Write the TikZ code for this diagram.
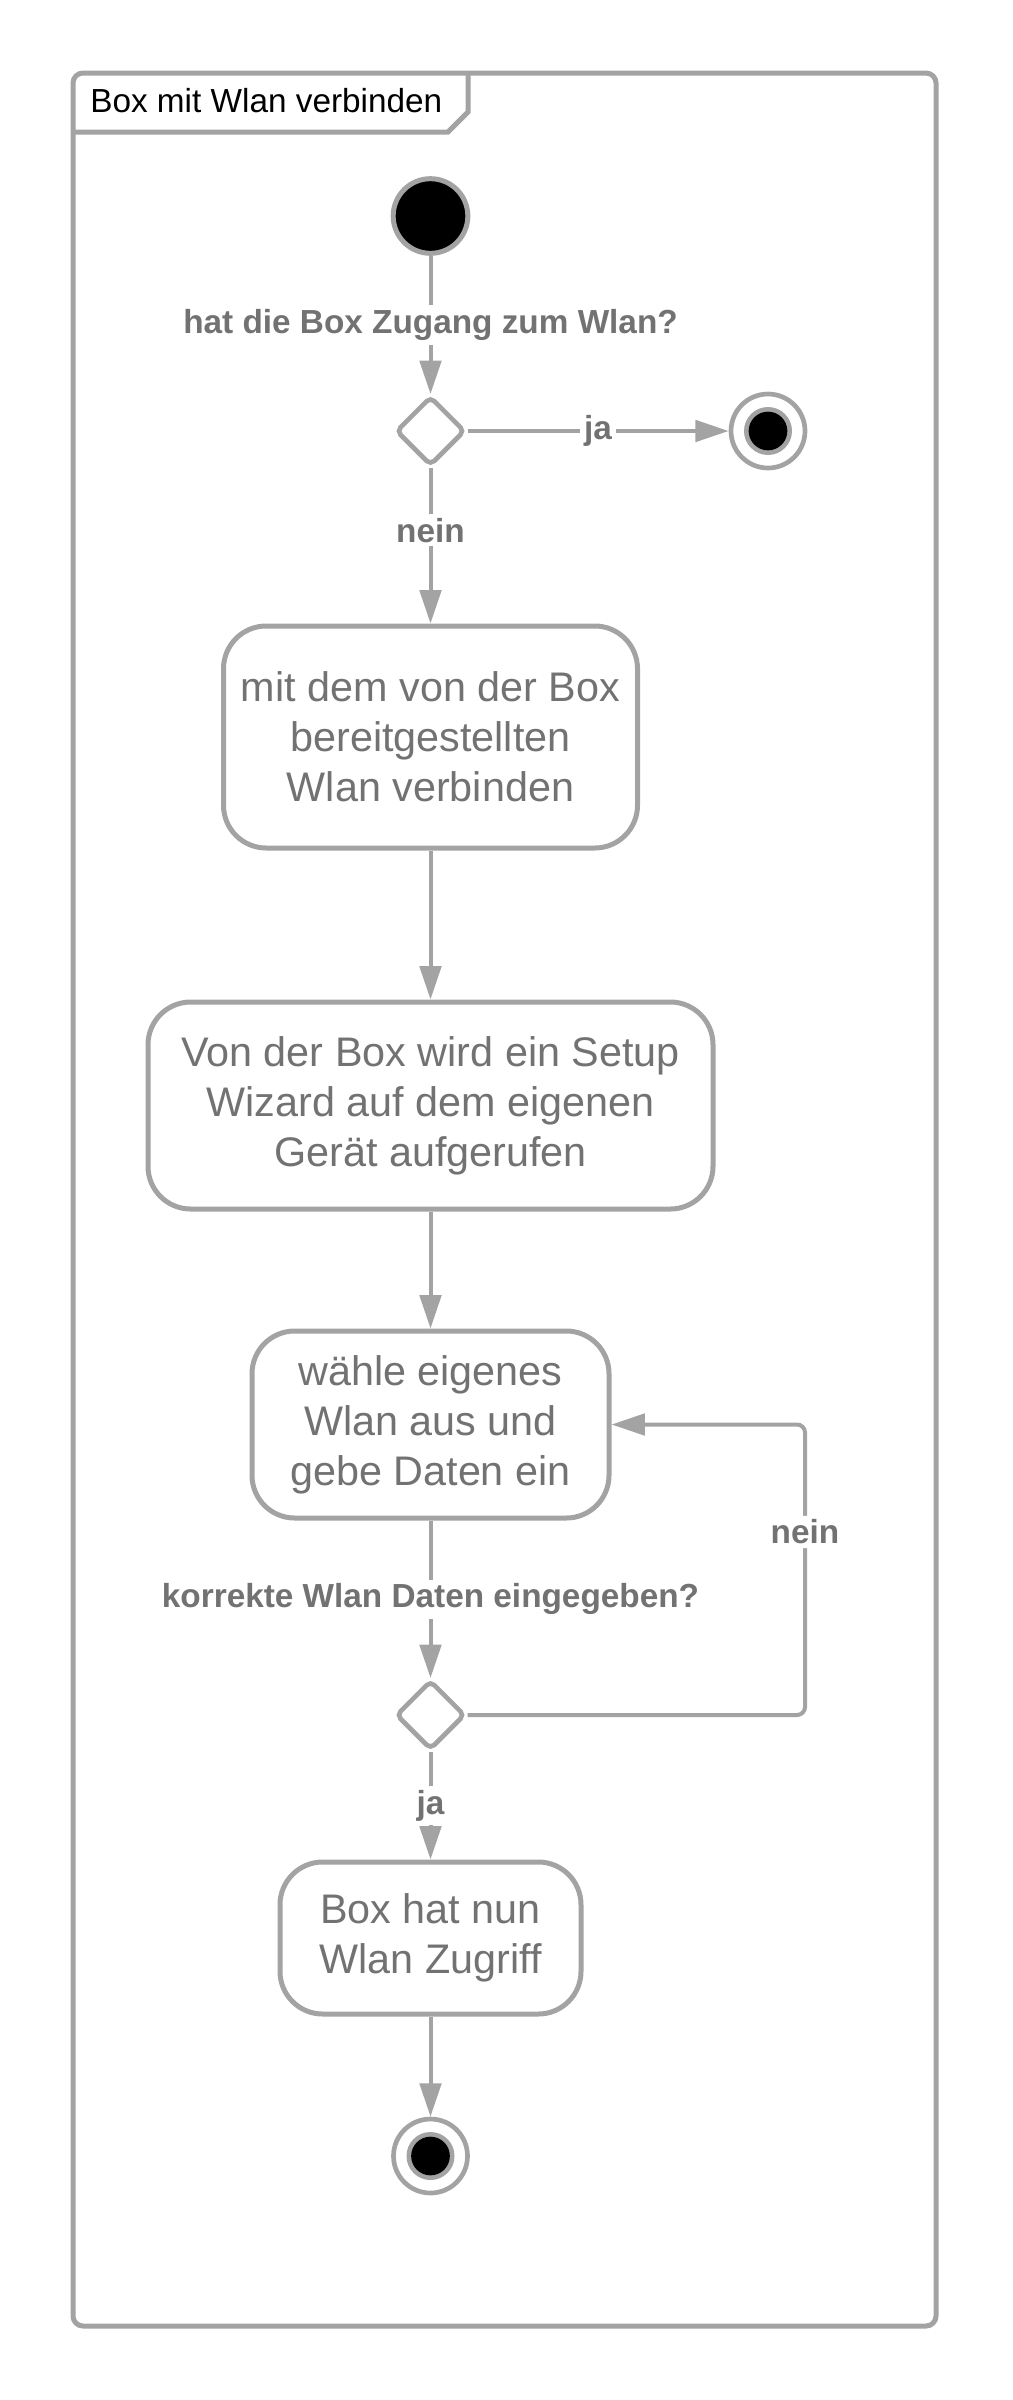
\documentclass[tikz,border=0pt]{standalone}
\usepackage{fontspec}
\setmainfont{Liberation Sans}
\usepackage{xcolor}
\usepackage{tikz}
\usetikzlibrary{shapes.geometric, arrows.meta}

\definecolor{linegray}{HTML}{A3A3A3}
\definecolor{textgray}{HTML}{727272}

\begin{document}
\begin{tikzpicture}[x=0.75pt, y=-0.75pt,
        action/.style={rectangle, rounded corners=32pt, draw=linegray, line width=3.75pt, fill=white,
            align=center, text=textgray, font=\fontsize{31}{37.5}\selectfont, inner sep=0pt},
        decision/.style={diamond, draw=linegray, line width=3.5pt, rounded corners=4pt, fill=white,
            minimum width=52pt, minimum height=52pt, inner sep=0pt},
        startnode/.style={circle, draw=linegray, line width=3.75pt, fill=black, minimum size=56pt, inner sep=0pt},
        endnode/.style={circle, draw=linegray, line width=3.5pt, fill=white, minimum size=55.5pt, inner sep=0pt,
            path picture={
                \fill[linegray] (path picture bounding box.center) circle (18pt);
                \fill[black] (path picture bounding box.center) circle (14.5pt);
            }},
        flow/.style={draw=linegray, line width=3pt, -{Triangle[length=25pt, width=16pt]}},
        guard/.style={fill=white, text=textgray, font=\fontsize{25}{30}\selectfont\bfseries, inner sep=3pt}
    ]
        \useasboundingbox (0, 0) rectangle (1013, 2400);

        % frame with title tab
        \draw[linegray, line width=3.75pt, rounded corners=7.5pt] (73, 73) rectangle (936, 2326);
        \draw[linegray, line width=3.75pt] (73, 132) -- (448, 132) -- (468, 112) -- (468, 73);
        \node[anchor=west, inner sep=0pt, font=\fontsize{25}{30}\selectfont] (title) at (90, 101) {Box mit Wlan verbinden};

        % nodes
        \node[startnode] (start) at (430.5, 216) {};
        \node[decision] (dec1) at (430.5, 431) {};
        \node[endnode] (end1) at (768, 431) {};
        \node[action, minimum width=310.5pt, minimum height=166.5pt] (act1) at (430.5, 737)
            {mit dem von der Box\\bereitgestellten\\Wlan verbinden};
        \node[action, minimum width=423.75pt, minimum height=155.25pt] (act2) at (430.5, 1105.5)
            {Von der Box wird ein Setup\\Wizard auf dem eigenen\\Gerät aufgerufen};
        \node[action, minimum width=267.75pt, minimum height=140.25pt] (act3) at (430.5, 1424.5)
            {wähle eigenes\\Wlan aus und\\gebe Daten ein};
        \node[decision] (dec2) at (430.5, 1715) {};
        \coordinate (loop) at (805, 1715);
        \node[action, minimum width=225.75pt, minimum height=114pt] (act4) at (430.5, 1938)
            {Box hat nun\\Wlan Zugriff};
        \node[endnode] (end2) at (430.5, 2156) {};

        % transitions
        \draw[flow] (start) -- node[guard] {hat die Box Zugang zum Wlan?} (dec1);
        \draw[flow] (dec1) -- node[guard] {ja} (end1);
        \draw[flow] (dec1) -- node[guard, pos=0.4] {nein} (act1);
        \draw[flow] (act1) -- (act2);
        \draw[flow] (act2) -- (act3);
        \draw[flow] (act3) -- node[guard] {korrekte Wlan Daten eingegeben?} (dec2);
        \draw[flow, rounded corners=6pt] (dec2.east) -- (loop) |- node[guard, pos=0.315] {nein} (act3.east);
        \draw[flow] (dec2) -- node[guard] {ja} (act4);
        \draw[flow] (act4) -- (end2);
    \end{tikzpicture}
\end{document}
